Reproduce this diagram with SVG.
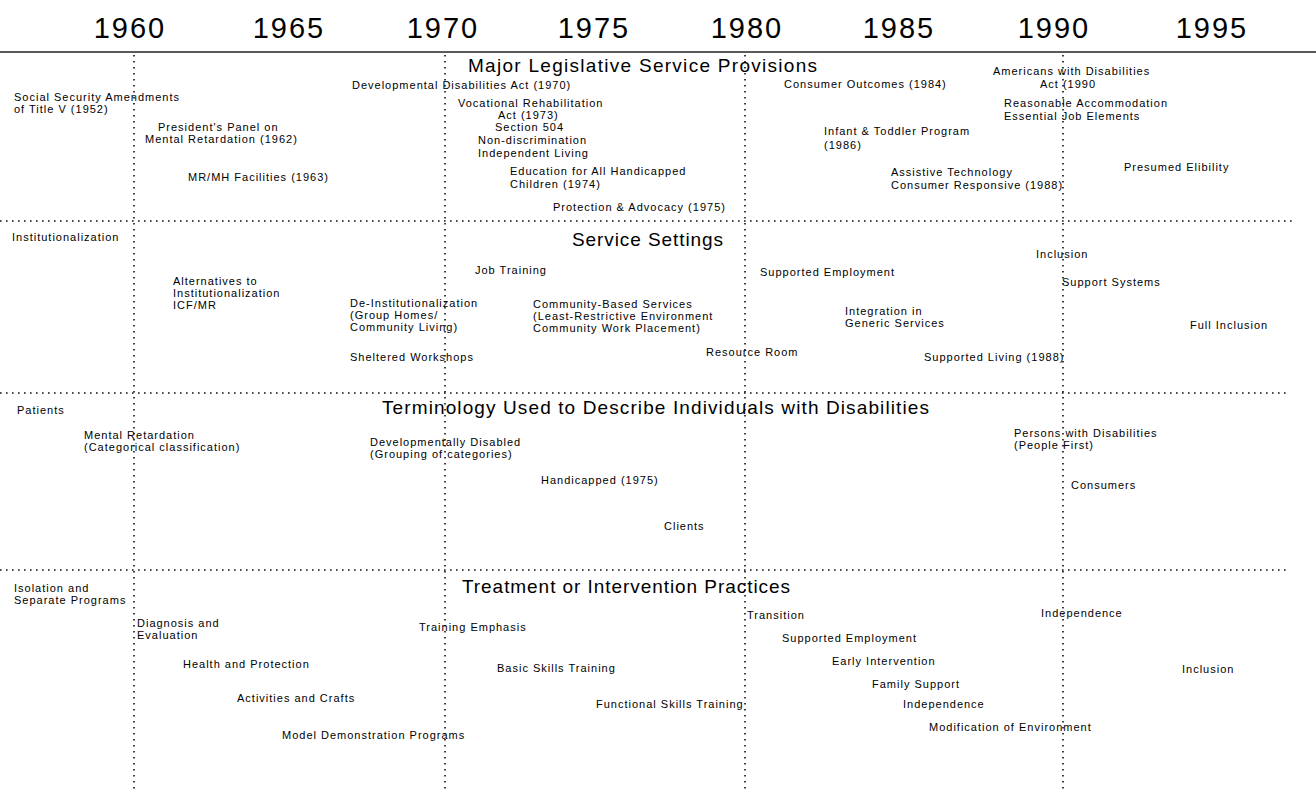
<svg xmlns="http://www.w3.org/2000/svg" width="1316" height="792" viewBox="0 0 1316 792">
<style>
text{font-family:"Liberation Sans",Arial,sans-serif;fill:#000}
.t{font-size:11px;letter-spacing:1px}
.h{font-size:19px}
.y{font-size:29px;text-anchor:middle;letter-spacing:2px}
.dot{stroke:#111;stroke-width:1.6;stroke-dasharray:1.6 4.4;fill:none}
.solid{stroke:#222;stroke-width:1.6;fill:none}
</style>
<rect width="1316" height="792" fill="#fff"/>
<g id="years">
<text class="y" x="130" y="38">1960</text>
<text class="y" x="289" y="38">1965</text>
<text class="y" x="443" y="38">1970</text>
<text class="y" x="594" y="38">1975</text>
<text class="y" x="747" y="38">1980</text>
<text class="y" x="899" y="38">1985</text>
<text class="y" x="1054" y="38">1990</text>
<text class="y" x="1212" y="38">1995</text>
</g>
<g id="connectors">
<line class="solid" x1="0" y1="52" x2="1316" y2="52"/>
<line class="dot" x1="0" y1="221" x2="1295" y2="221"/>
<line class="dot" x1="0" y1="393" x2="1290" y2="393"/>
<line class="dot" x1="0" y1="570" x2="1290" y2="570"/>
<line class="dot" x1="134" y1="55" x2="134" y2="792"/>
<line class="dot" x1="445" y1="55" x2="445" y2="792"/>
<line class="dot" x1="745" y1="55" x2="745" y2="792"/>
<line class="dot" x1="1063" y1="55" x2="1063" y2="792"/>
</g>
<g id="sec-legislative">
<text class="h" x="468" y="72" textLength="349" lengthAdjust="spacing">Major Legislative Service Provisions</text>
</g>
<g id="social-security"><text class="t" x="14" y="101">Social Security Amendments</text><text class="t" x="14" y="113">of Title V (1952)</text></g>
<g id="presidents-panel"><text class="t" x="158" y="131">President's Panel on</text><text class="t" x="145" y="143">Mental Retardation (1962)</text></g>
<g id="mrmh"><text class="t" x="188" y="181">MR/MH Facilities (1963)</text></g>
<g id="dd-act"><text class="t" x="352" y="89">Developmental Disabilities Act (1970)</text></g>
<g id="voc-rehab"><text class="t" x="458" y="107">Vocational Rehabilitation</text><text class="t" x="498" y="119">Act (1973)</text><text class="t" x="495" y="131">Section 504</text><text class="t" x="478" y="144">Non-discrimination</text><text class="t" x="478" y="157">Independent Living</text></g>
<g id="education"><text class="t" x="510" y="175">Education for All Handicapped</text><text class="t" x="510" y="188">Children (1974)</text></g>
<g id="protection"><text class="t" x="553" y="211">Protection &amp; Advocacy (1975)</text></g>
<g id="consumer-outcomes"><text class="t" x="784" y="88">Consumer Outcomes (1984)</text></g>
<g id="ada"><text class="t" x="993" y="75">Americans with Disabilities</text><text class="t" x="1040" y="88">Act (1990</text></g>
<g id="reasonable"><text class="t" x="1004" y="107">Reasonable Accommodation</text><text class="t" x="1004" y="120">Essential Job Elements</text></g>
<g id="infant"><text class="t" x="824" y="135">Infant &amp; Toddler Program</text><text class="t" x="824" y="149">(1986)</text></g>
<g id="assistive"><text class="t" x="891" y="176">Assistive Technology</text><text class="t" x="891" y="189">Consumer Responsive (1988)</text></g>
<g id="presumed"><text class="t" x="1124" y="171">Presumed Elibility</text></g>

<g id="sec-settings"><text class="h" x="572" y="246" textLength="151" lengthAdjust="spacing">Service Settings</text></g>
<g id="institutionalization"><text class="t" x="12" y="241">Institutionalization</text></g>
<g id="job-training"><text class="t" x="475" y="274">Job Training</text></g>
<g id="alternatives"><text class="t" x="173" y="285">Alternatives to</text><text class="t" x="173" y="297">Institutionalization</text><text class="t" x="173" y="309">ICF/MR</text></g>
<g id="de-inst"><text class="t" x="350" y="307">De-Institutionalization</text><text class="t" x="350" y="319">(Group Homes/</text><text class="t" x="350" y="331">Community Living)</text></g>
<g id="sheltered"><text class="t" x="350" y="361">Sheltered Workshops</text></g>
<g id="community"><text class="t" x="533" y="308">Community-Based Services</text><text class="t" x="533" y="320">(Least-Restrictive Environment</text><text class="t" x="533" y="332">Community Work Placement)</text></g>
<g id="supported-emp-1"><text class="t" x="760" y="276">Supported Employment</text></g>
<g id="integration"><text class="t" x="845" y="315">Integration in</text><text class="t" x="845" y="327">Generic Services</text></g>
<g id="resource"><text class="t" x="706" y="356">Resource Room</text></g>
<g id="supported-living"><text class="t" x="924" y="361">Supported Living (1988)</text></g>
<g id="inclusion-1"><text class="t" x="1036" y="258">Inclusion</text></g>
<g id="support-systems"><text class="t" x="1062" y="286">Support Systems</text></g>
<g id="full-inclusion"><text class="t" x="1190" y="329">Full Inclusion</text></g>

<g id="sec-terminology"><text class="h" x="382" y="414" textLength="547" lengthAdjust="spacing">Terminology Used to Describe Individuals with Disabilities</text></g>
<g id="patients"><text class="t" x="17" y="414">Patients</text></g>
<g id="mental-retardation"><text class="t" x="84" y="439">Mental Retardation</text><text class="t" x="84" y="451">(Categorical classification)</text></g>
<g id="dev-disabled"><text class="t" x="370" y="446">Developmentally Disabled</text><text class="t" x="370" y="458">(Grouping of categories)</text></g>
<g id="handicapped"><text class="t" x="541" y="484">Handicapped (1975)</text></g>
<g id="clients"><text class="t" x="664" y="530">Clients</text></g>
<g id="persons"><text class="t" x="1014" y="437">Persons with Disabilities</text><text class="t" x="1014" y="449">(People First)</text></g>
<g id="consumers"><text class="t" x="1071" y="489">Consumers</text></g>

<g id="sec-treatment"><text class="h" x="462" y="593" textLength="328" lengthAdjust="spacing">Treatment or Intervention Practices</text></g>
<g id="isolation"><text class="t" x="14" y="592">Isolation and</text><text class="t" x="14" y="604">Separate Programs</text></g>
<g id="diagnosis"><text class="t" x="137" y="627">Diagnosis and</text><text class="t" x="137" y="639">Evaluation</text></g>
<g id="training-emphasis"><text class="t" x="419" y="631">Training Emphasis</text></g>
<g id="health"><text class="t" x="183" y="668">Health and Protection</text></g>
<g id="basic-skills"><text class="t" x="497" y="672">Basic Skills Training</text></g>
<g id="activities"><text class="t" x="237" y="702">Activities and Crafts</text></g>
<g id="functional"><text class="t" x="596" y="708">Functional Skills Training</text></g>
<g id="model-demo"><text class="t" x="282" y="739">Model Demonstration Programs</text></g>
<g id="transition"><text class="t" x="747" y="619">Transition</text></g>
<g id="supported-emp-2"><text class="t" x="782" y="642">Supported Employment</text></g>
<g id="early"><text class="t" x="832" y="665">Early Intervention</text></g>
<g id="family"><text class="t" x="872" y="688">Family Support</text></g>
<g id="independence-1"><text class="t" x="903" y="708">Independence</text></g>
<g id="modification"><text class="t" x="929" y="731">Modification of Environment</text></g>
<g id="independence-2"><text class="t" x="1041" y="617">Independence</text></g>
<g id="inclusion-2"><text class="t" x="1182" y="673">Inclusion</text></g>
</svg>
